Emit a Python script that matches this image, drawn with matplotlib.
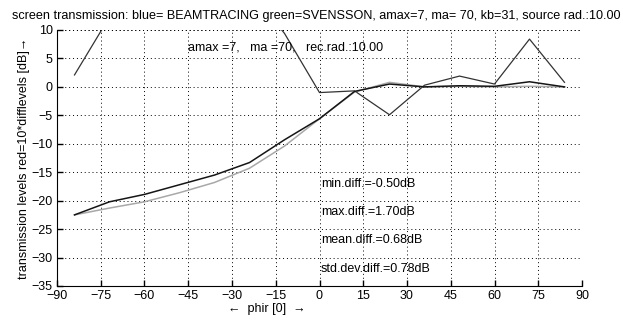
import matplotlib
matplotlib.use('Agg')
import matplotlib.pyplot as plt

plt.rcParams['font.family'] = ['Liberation Sans', 'DejaVu Sans']
plt.rcParams['font.size'] = 9

# incidence angles (deg)
phir = [-84, -72, -60, -48, -36, -24, -12, 0, 12, 24, 36, 48, 60, 72, 84]
# transmission levels (dB)
beamtracing = [-22.5, -20.2, -18.9, -17.2, -15.5, -13.3, -9.3, -5.6, -0.8, 0.5, 0.0, 0.2, 0.1, 0.9, 0.0]
svensson = [-22.5, -21.3, -20.2, -18.6, -16.8, -14.3, -10.4, -5.6, -0.9, 0.8, 0.0, 0.1, 0.0, 0.1, 0.0]
# 10 * difference levels
difflevels10 = [2.1, 12.3, 13.5, 14.5, 14.0, 17.0, 9.4, -1.0, -0.7, -4.9, 0.3, 1.9, 0.5, 8.4, 0.8]

stats = ['min.diff.=-0.50dB', 'max.diff.=1.70dB', 'mean.diff.=0.68dB', 'std.dev.diff.=0.78dB']
stats_y = [-17, -22, -27, -32]

xticks = list(range(-90, 91, 15))
yticks = list(range(-35, 11, 5))

fig = plt.figure(figsize=(6.23, 3.22), dpi=100)
ax = fig.add_axes([57/623, 1 - 286/322, 525/623, 256/322])

ax.plot(phir, difflevels10, color='#333333', lw=0.9)
ax.plot(phir, svensson, color='#a8a8a8', lw=1.1)
ax.plot(phir, beamtracing, color='#151515', lw=1.1)

ax.set_xlim(-90, 90)
ax.set_ylim(-35, 10)
ax.set_xticks(xticks)
ax.set_yticks(yticks)
ax.grid(True, linestyle=(0, (1, 3)), color='black', lw=0.7)
ax.spines['top'].set_visible(False)
ax.spines['right'].set_visible(False)
ax.tick_params(direction='in', length=4, width=1, pad=3)

# top and right grid lines (box off, grid still drawn)
ax.axhline(10, linestyle=(0, (1, 3)), color='black', lw=0.7)
ax.axvline(90, linestyle=(0, (1, 3)), color='black', lw=0.7)

ax.text(-45, 7, 'amax =7,   ma =70,   rec.rad.:10.00', va='center', ha='left')
for s, yy in zip(stats, stats_y):
    ax.text(0.5, yy, s, va='center', ha='left')

ax.set_ylabel('transmission levels red=10*difflevels [dB]\u2192', labelpad=1)
fig.text(267/623, 1 - 309/322, '\u2190  phir [0]  \u2192', ha='center', va='center')
fig.text(12/623, 1 - 16/322,
         'screen transmission: blue= BEAMTRACING green=SVENSSON, amax=7, ma= 70, kb=31, source rad.:10.00',
         ha='left', va='center', fontsize=9.1)

fig.savefig('out.png', dpi=100)
